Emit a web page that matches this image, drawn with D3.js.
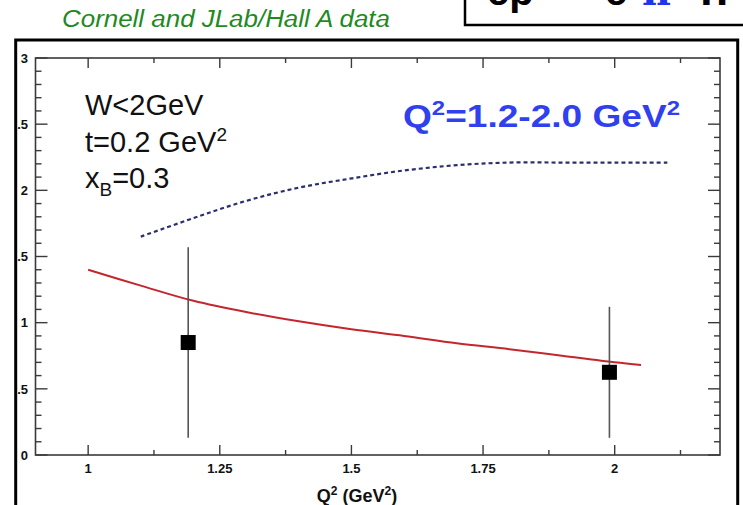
<!DOCTYPE html>
<html>
<head>
<meta charset="utf-8">
<script src="https://cdn.jsdelivr.net/npm/d3@7"></script>
<style>
  html, body { margin: 0; padding: 0; background: #fff; }
  svg { display: block; }
  text { font-family: "Liberation Sans", Arial, sans-serif; }
</style>
</head>
<body>
<svg id="chart" width="743" height="505"></svg>
<script>
// Measured cross sections (two Q^2 bins)
const pointQ2 = [1.19, 1.99];
const pointSigma = [0.85, 0.625];
const pointErr = [0.72, 0.495];

// Model curve 1 (solid red)
const redQ2 = [1.0, 1.1, 1.2, 1.3, 1.4, 1.5, 1.6, 1.7, 1.8, 1.9, 2.0, 2.05];
const redSigma = [1.40, 1.28, 1.165, 1.08, 1.01, 0.95, 0.90, 0.845, 0.80, 0.75, 0.70, 0.68];

// Model curve 2 (dashed blue)
const blueQ2 = [1.1, 1.2, 1.3, 1.4, 1.5, 1.6, 1.7, 1.8, 1.9, 2.0, 2.1];
const blueSigma = [1.65, 1.79, 1.92, 2.02, 2.09, 2.15, 2.19, 2.21, 2.21, 2.21, 2.21];

// Axis ticks
const xMajor = [1, 1.25, 1.5, 1.75, 2];
const xMinor = [1.125, 1.375, 1.625, 1.875, 2.125];
const xLabels = ["1", "1.25", "1.5", "1.75", "2"];
const yMajor = [0, 0.5, 1, 1.5, 2, 2.5, 3];
const yLabels = ["0", "0.5", "1", "1.5", "2", "2.5", "3"];
const yMinor = d3.range(0, 31).map(i => i / 10).filter(v => Math.round(v * 10) % 5 !== 0);

const svg = d3.select("#chart");

const x = d3.scaleLinear().domain([0.9, 2.2]).range([35.5, 720]);
const y = d3.scaleLinear().domain([0, 3]).range([455, 58]);

// Header caption
svg.append("text")
  .attr("x", 62).attr("y", 27)
  .attr("font-size", 23).attr("font-style", "italic")
  .attr("fill", "#1f8a1f")
  .attr("textLength", 328).attr("lengthAdjust", "spacingAndGlyphs")
  .text("Cornell and JLab/Hall A data");

// Reaction box (mostly above the page edge)
svg.append("rect")
  .attr("x", 465).attr("y", -20).attr("width", 300).attr("height", 45)
  .attr("fill", "#fff").attr("stroke", "#000").attr("stroke-width", 2.5);
const reaction = svg.append("text")
  .attr("y", 5)
  .attr("font-family", "'Liberation Serif', 'Times New Roman', serif")
  .attr("font-weight", "bold").attr("font-size", 40).attr("fill", "#000");
reaction.append("tspan").attr("x", 487).text("ep");
reaction.append("tspan").attr("x", 548).attr("dy", -8).text("→");
reaction.append("tspan").attr("x", 605).attr("dy", 8).text("e");
reaction.append("tspan").attr("x", 642).attr("fill", "#2233ee")
  .attr("font-family", "'DejaVu Serif', serif").text("π");
reaction.append("tspan").attr("font-size", 24).attr("fill", "#2233ee").attr("dy", -18).text("+");
reaction.append("tspan").attr("x", 700).attr("dy", 18).attr("font-size", 46).text("n");

// Outer panel frame
svg.append("rect")
  .attr("x", 15.7).attr("y", 40).attr("width", 722).attr("height", 500)
  .attr("fill", "none").attr("stroke", "#000").attr("stroke-width", 3);

// Clip for labels inside the frame
svg.append("clipPath").attr("id", "inner")
  .append("rect").attr("x", 17.3).attr("y", 41.5).attr("width", 719).attr("height", 470);

const axisColor = "#3a3a3a";
const g = svg.append("g");

// Plot box
g.append("rect")
  .attr("x", x.range()[0]).attr("y", y.range()[1])
  .attr("width", x.range()[1] - x.range()[0]).attr("height", y.range()[0] - y.range()[1])
  .attr("fill", "none").attr("stroke", axisColor).attr("stroke-width", 1.6);

// Ticks drawn via the scales on all four sides
const tickG = g.append("g").attr("stroke", axisColor).attr("stroke-width", 1.4);
const yb = y(0), yt = y(3), xl = x(0.9), xr = x(2.2);
xMajor.forEach(v => {
  tickG.append("line").attr("x1", x(v)).attr("x2", x(v)).attr("y1", yb).attr("y2", yb - 10);
  tickG.append("line").attr("x1", x(v)).attr("x2", x(v)).attr("y1", yt).attr("y2", yt + 10);
});
xMinor.forEach(v => {
  tickG.append("line").attr("x1", x(v)).attr("x2", x(v)).attr("y1", yb).attr("y2", yb - 5);
  tickG.append("line").attr("x1", x(v)).attr("x2", x(v)).attr("y1", yt).attr("y2", yt + 5);
});
yMajor.forEach(v => {
  tickG.append("line").attr("x1", xl).attr("x2", xl + 12).attr("y1", y(v)).attr("y2", y(v));
  tickG.append("line").attr("x1", xr).attr("x2", xr - 12).attr("y1", y(v)).attr("y2", y(v));
});
yMinor.forEach(v => {
  tickG.append("line").attr("x1", xl).attr("x2", xl + 6).attr("y1", y(v)).attr("y2", y(v));
  tickG.append("line").attr("x1", xr).attr("x2", xr - 6).attr("y1", y(v)).attr("y2", y(v));
});

// Tick labels
const labG = svg.append("g").attr("clip-path", "url(#inner)")
  .attr("font-weight", "bold").attr("font-size", 13).attr("fill", "#111");
yMajor.forEach((v, i) => {
  labG.append("text").attr("x", 28).attr("y", y(v)).attr("dy", "0.36em")
    .attr("text-anchor", "end").text(yLabels[i]);
});
xMajor.forEach((v, i) => {
  labG.append("text").attr("x", x(v)).attr("y", 473)
    .attr("text-anchor", "middle").text(xLabels[i]);
});

// Axis title
const xt = svg.append("text").attr("x", 357).attr("y", 502)
  .attr("text-anchor", "middle").attr("font-weight", "bold").attr("font-size", 18).attr("fill", "#111");
xt.append("tspan").text("Q");
xt.append("tspan").attr("font-size", 12).attr("dy", -7).text("2");
xt.append("tspan").attr("dy", 7).text(" (GeV");
xt.append("tspan").attr("font-size", 12).attr("dy", -7).text("2");
xt.append("tspan").attr("dy", 7).text(")");

// Kinematics annotation
const kin = svg.append("g").attr("font-size", 29).attr("fill", "#111");
kin.append("text").attr("x", 85).attr("y", 115).text("W<2GeV");
const t2 = kin.append("text").attr("x", 85).attr("y", 152);
t2.append("tspan").text("t=0.2 GeV");
t2.append("tspan").attr("font-size", 19).attr("dy", -11).text("2");
const t3 = kin.append("text").attr("x", 85).attr("y", 188);
t3.append("tspan").text("x");
t3.append("tspan").attr("font-size", 19).attr("dy", 8).text("B");
t3.append("tspan").attr("dy", -8).text("=0.3");

// Q^2 range label
const qr = svg.append("text").attr("x", 403).attr("y", 127)
  .attr("font-weight", "bold").attr("font-size", 31).attr("fill", "#3040ee")
  .attr("textLength", 277).attr("lengthAdjust", "spacingAndGlyphs");
qr.append("tspan").text("Q");
qr.append("tspan").attr("font-size", 20).attr("dy", -12).text("2");
qr.append("tspan").attr("dy", 12).text("=1.2-2.0 GeV");
qr.append("tspan").attr("font-size", 20).attr("dy", -12).text("2");

// Model curves
const line = d3.line().x(d => x(d[0])).y(d => y(d[1])).curve(d3.curveCatmullRom);
svg.append("path")
  .datum(redQ2.map((q, i) => [q, redSigma[i]]))
  .attr("d", line).attr("fill", "none")
  .attr("stroke", "#c4262e").attr("stroke-width", 2);
svg.append("path")
  .datum(blueQ2.map((q, i) => [q, blueSigma[i]]))
  .attr("d", line).attr("fill", "none")
  .attr("stroke", "#2c2f6e").attr("stroke-width", 2.2)
  .attr("stroke-dasharray", "4,3");

// Data points with error bars
const pts = pointQ2.map((q, i) => ({ q, s: pointSigma[i], e: pointErr[i] }));
svg.append("g").selectAll("line").data(pts).join("line")
  .attr("x1", d => x(d.q)).attr("x2", d => x(d.q))
  .attr("y1", d => y(d.s - d.e)).attr("y2", d => y(d.s + d.e))
  .attr("stroke", "#555").attr("stroke-width", 1.6);
svg.append("g").selectAll("rect").data(pts).join("rect")
  .attr("x", d => x(d.q) - 7.5).attr("y", d => y(d.s) - 7.5)
  .attr("width", 15).attr("height", 15).attr("fill", "#000");
</script>
</body>
</html>
